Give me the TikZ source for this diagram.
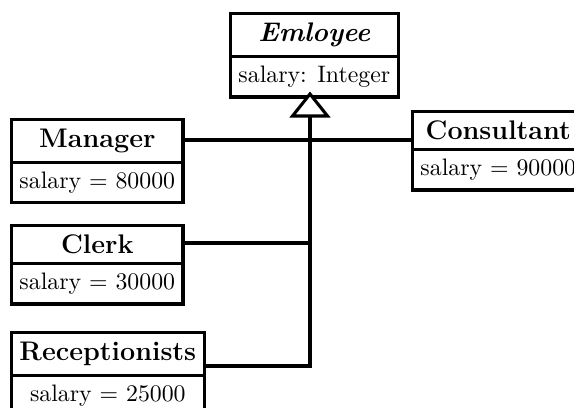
\documentclass[tikz,border=0pt]{standalone}
\usetikzlibrary{calc}
\usetikzlibrary{shapes.multipart}

\begin{document}
\begin{tikzpicture}[x=0.42pt,y=-0.42pt,
        cls/.style={rectangle split, rectangle split parts=2, draw, line width=1.3pt,
            anchor=north west, fill=white}]
        \useasboundingbox (0,0) rectangle (574,408);
        \clip (0,0) rectangle (574,408);
        % 父类
        \node [cls] (emp) at (229,12)
            {\fontsize{11.3}{13}\selectfont\bfseries\itshape Emloyee\nodepart{two}salary: Integer};
        % 子类
        \node [cls] (mgr) at (10,118)
            {\fontsize{11.3}{13}\selectfont\bfseries Manager\nodepart{two}salary = 80000};
        \node [cls] (con) at (411,110)
            {\fontsize{11.3}{13}\selectfont\bfseries Consultant\nodepart{two}salary = 90000};
        \node [cls] (clk) at (10,224)
            {\fontsize{11.3}{13}\selectfont\bfseries Clerk\nodepart{two}salary = 30000};
        \node [cls] (rec) at (10,331)
            {\fontsize{11.3}{13}\selectfont\bfseries Receptionists\nodepart{two}salary = 25000};
        % 继承线的交点
        \coordinate (tip) at (310,94);
        \coordinate (base) at (310,116);
        \coordinate (j1) at (310,243);
        \coordinate (j2) at (310,366);
        % 连线
        \draw [line width=1.3pt] (mgr.east |- 0,140) -- (con.west |- 0,140);
        \draw [line width=1.3pt] (clk.east |- j1) -- (j1);
        \draw [line width=1.3pt] (rec.east |- j2) -- (j2) -- (base);
        % 空心三角
        \draw [line width=1.3pt, fill=white] (tip) -- ($(base)+(-17.5,0)$) -- ($(base)+(17.5,0)$) -- cycle;
\end{tikzpicture}
\end{document}
